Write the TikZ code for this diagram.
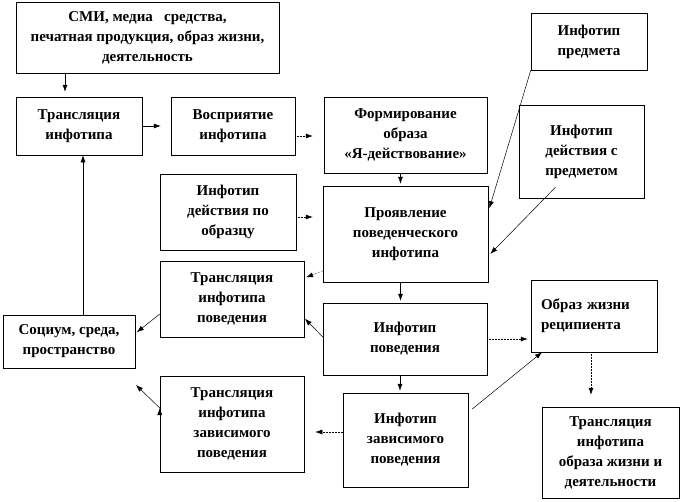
\documentclass[tikz,border=0pt]{standalone}
\usepackage{fontspec}
\setmainfont{Liberation Serif}
\usepackage{tikz}
\usetikzlibrary{calc,positioning,arrows.meta}

\begin{document}
\begin{tikzpicture}[x=1pt,y=-1pt]
          \useasboundingbox (0,0) rectangle (680,501);
               % Setup the style for the boxes
          \tikzset{box style/.style={draw,
                                      line width=0.5pt,
                                      align=center,
                                      inner sep=1pt,
                                      font=\bfseries\fontsize{15}{20}\selectfont}}
          % Draw the boxes
          \node[box style, minimum width=263, minimum height=71] at (147.5, 37.5) (smi)
               {СМИ, медиа\ \ \ средства,\\печатная продукция, образ жизни,\\деятельность};
          \node[box style, minimum width=126, minimum height=58] at (79, 126) (transl)
               {Трансляция\\инфотипа};
          \node[box style, minimum width=124, minimum height=58] at (233, 126) (vospr)
               {Восприятие\\инфотипа};
          \node[box style, minimum width=163, minimum height=76] at (405.5, 135) (form)
               {Формирование\\образа\\«Я-действование»};
          \node[box style, minimum width=116, minimum height=57] at (589, 41.5) (predm)
               {Инфотип\\предмета};
          \node[box style, minimum width=125, minimum height=93] at (581.5, 151.5) (deistv)
               {Инфотип\\действия с\\предметом};
          \node[box style, minimum width=165, minimum height=96] at (405.5, 234) (proyav)
               {Проявление\\поведенческого\\инфотипа};
          \node[box style, minimum width=136, minimum height=76] at (228, 212) (obrazec)
               {Инфотип\\действия по\\образцу};
          \node[box style, minimum width=144, minimum height=76] at (232, 299) (translpov)
               {Трансляция\\инфотипа\\поведения};
          \node[box style, minimum width=132, minimum height=53] at (69, 341.5) (socium)
               {Социум, среда,\\пространство};
          \node[box style, minimum width=164, minimum height=72] at (405, 339) (infpov)
               {Инфотип\\поведения};
          \node[box style, minimum width=144, minimum height=96] at (232, 424) (translzav)
               {Трансляция\\инфотипа\\зависимого\\поведения};
          \node[box style, minimum width=125, minimum height=94] at (405.5, 440) (infzav)
               {Инфотип\\зависимого\\поведения};
          \node[box style, minimum width=126, minimum height=72, text width=106, align=left]
               at (594, 316) (obrazzh)
               {Образ жизни\\реципиента};
          \node[box style, minimum width=137, minimum height=91] at (610.5, 452.5) (translobr)
               {Трансляция\\инфотипа\\образа жизни и\\деятельности};
          \coordinate (soctip) at (136, 385);
          % Connect the boxes with arrows
          \draw[->,
                >={Latex[length=7pt,width=5pt]},
                line width=0.5pt]
             ([xshift=-14]transl.north |- smi.south) edge[shorten >=5]   ([xshift=-14]transl.north)
             (transl.east) edge[shorten >=10]   (vospr.west)
             ([yshift=-10]vospr.east) edge[densely dotted, shorten >=11] ([yshift=-10]vospr.east -| form.west)
             ([xshift=-5]form.south) edge[shorten >=2] ([xshift=-5]proyav.north)
             ([xshift=14]socium.north) edge   ([xshift=14]socium.north |- transl.south)
             (predm.south west) edge[shorten >=4]   ([yshift=22]proyav.east)
             ([xshift=-26,yshift=11]deistv.south) edge[shorten >=3] ([yshift=-22]proyav.east)
             ([yshift=-5]obrazec.east) edge[densely dotted, shorten >=10] ([yshift=-5]obrazec.east -| proyav.west)
             ([yshift=-37]proyav.west) edge[densely dotted, shorten >=2] ([yshift=21]translpov.east)
             ([yshift=2]infpov.west) edge[shorten >=1]   ([yshift=-19]translpov.east)
             ([yshift=-15]translpov.west) edge[shorten >=2]   ([yshift=8]socium.east)
             ([xshift=-5]proyav.south) edge[shorten >=2]   ([xshift=-5]proyav.south |- infpov.north)
             (infpov.east) edge[densely dotted, shorten >=3]   (infpov.east -| obrazzh.west)
             ([xshift=-5]infpov.south) edge[shorten >=2]   ([xshift=-5]infpov.south |- infzav.north)
             ([xshift=4,yshift=31]infzav.east) edge   ([xshift=-52]obrazzh.south)
             ([xshift=-3]obrazzh.south) edge[densely dotted, shorten >=12] ([xshift=-3]obrazzh.south |- translobr.north)
             ([yshift=8]infzav.west) edge[densely dotted, shorten >=11] ([yshift=8]infzav.west -| translzav.east)
             ([yshift=16]translzav.west) edge   (soctip);
      \end{tikzpicture}
\end{document}
